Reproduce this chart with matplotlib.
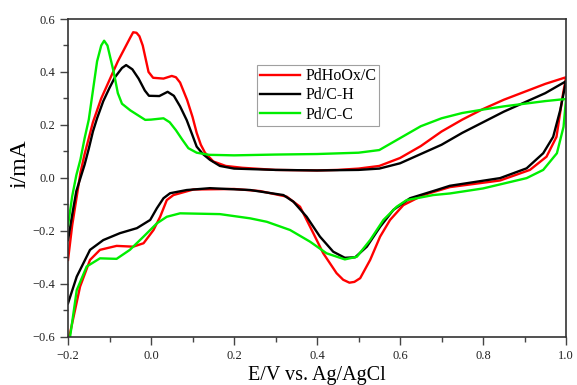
import numpy as np
import matplotlib
matplotlib.use('Agg')
import matplotlib.pyplot as plt
from matplotlib.ticker import MultipleLocator

plt.rcParams['font.family'] = 'Liberation Serif'

# PdHoOx/C, forward (anodic) scan
red_up_x = [-0.2, -0.19, -0.18, -0.17, -0.16, -0.15, -0.14, -0.12, -0.10, -0.08, -0.06, -0.05, -0.043, -0.035,
            -0.028, -0.02, -0.013, -0.006, 0.005, 0.03, 0.05, 0.06, 0.07, 0.087, 0.1, 0.11, 0.12, 0.13, 0.15,
            0.18, 0.22, 0.3, 0.4, 0.45, 0.5, 0.55, 0.6, 0.65, 0.7, 0.75, 0.8, 0.85, 0.9, 0.95, 1.0]
red_up_y = [-0.31, -0.18, -0.08, 0.02, 0.09, 0.15, 0.21, 0.30, 0.37, 0.44, 0.50, 0.53, 0.55, 0.548,
            0.535, 0.50, 0.45, 0.40, 0.378, 0.375, 0.385, 0.38, 0.36, 0.294, 0.23, 0.17, 0.125, 0.095, 0.062,
            0.045, 0.038, 0.03, 0.028, 0.03, 0.035, 0.045, 0.075, 0.12, 0.175, 0.22, 0.26, 0.295, 0.325, 0.355, 0.38]
# PdHoOx/C, reverse (cathodic) scan
red_dn_x = [1.0, 0.993, 0.977, 0.953, 0.913, 0.841, 0.72, 0.656, 0.608, 0.576, 0.552, 0.528, 0.504, 0.49, 0.478,
            0.463, 0.447, 0.415, 0.391, 0.359, 0.327, 0.263, 0.2, 0.102, 0.054, 0.038, 0.022, 0.006, -0.018, -0.043,
            -0.083, -0.123, -0.147, -0.171, -0.195, -0.2]
red_dn_y = [0.38, 0.32, 0.155, 0.08, 0.03, -0.01, -0.035, -0.065, -0.103, -0.159, -0.222, -0.31, -0.379, -0.393, -0.396,
            -0.385, -0.36, -0.285, -0.209, -0.109, -0.071, -0.05, -0.042, -0.044, -0.065, -0.084, -0.147, -0.197, -0.247, -0.26,
            -0.257, -0.272, -0.31, -0.411, -0.586, -0.61]

# Pd/C-H
blk_up_x = [-0.2, -0.19, -0.18, -0.17, -0.16, -0.15, -0.14, -0.13, -0.115, -0.1, -0.087, -0.07, -0.06, -0.045,
            -0.03, -0.015, -0.005, 0.02, 0.04, 0.055, 0.07, 0.086, 0.1, 0.11, 0.125, 0.142, 0.166, 0.2, 0.3, 0.4,
            0.5, 0.55, 0.6, 0.65, 0.7, 0.75, 0.8, 0.85, 0.9, 0.95, 1.0]
blk_up_y = [-0.235, -0.14, -0.05, 0.0, 0.05, 0.11, 0.175, 0.225, 0.29, 0.34, 0.38, 0.415, 0.426, 0.41,
            0.375, 0.33, 0.31, 0.309, 0.325, 0.31, 0.27, 0.218, 0.16, 0.118, 0.09, 0.068, 0.045, 0.035, 0.03, 0.028,
            0.03, 0.035, 0.055, 0.09, 0.125, 0.17, 0.21, 0.25, 0.285, 0.32, 0.365]
blk_dn_x = [1.0, 0.986, 0.969, 0.945, 0.905, 0.841, 0.72, 0.688, 0.624, 0.584, 0.552, 0.52, 0.492, 0.467,
            0.439, 0.407, 0.375, 0.343, 0.319, 0.239, 0.142, 0.086, 0.046, 0.030, 0.014, -0.002, -0.034, -0.075,
            -0.115, -0.147, -0.179, -0.2]
blk_dn_y = [0.365, 0.256, 0.155, 0.093, 0.036, -0.001, -0.03, -0.046, -0.077, -0.121, -0.185, -0.26, -0.30, -0.302,
            -0.279, -0.222, -0.147, -0.09, -0.065, -0.046, -0.039, -0.046, -0.058, -0.077, -0.115, -0.159, -0.19, -0.209,
            -0.235, -0.272, -0.373, -0.474]

# Pd/C-C
grn_up_x = [-0.2, -0.19, -0.18, -0.17, -0.16, -0.15, -0.14, -0.13, -0.12, -0.113, -0.105, -0.099, -0.09, -0.08,
            -0.07, -0.05, -0.03, -0.014, 0.0, 0.03, 0.045, 0.06, 0.075, 0.09, 0.11, 0.14, 0.2, 0.3, 0.4, 0.5,
            0.55, 0.6, 0.65, 0.7, 0.75, 0.8, 0.85, 0.9, 0.95, 1.0]
grn_up_y = [-0.18, -0.07, 0.01, 0.07, 0.15, 0.22, 0.33, 0.44, 0.50, 0.518, 0.50, 0.46, 0.40, 0.32,
            0.28, 0.255, 0.235, 0.219, 0.22, 0.225, 0.21, 0.18, 0.145, 0.112, 0.095, 0.087, 0.085, 0.088, 0.09, 0.095,
            0.105, 0.15, 0.195, 0.225, 0.245, 0.258, 0.27, 0.28, 0.29, 0.298]
grn_dn_x = [1.0, 0.994, 0.978, 0.945, 0.905, 0.8, 0.72, 0.68, 0.64, 0.616, 0.592, 0.56, 0.528, 0.496,
            0.467, 0.423, 0.383, 0.335, 0.279, 0.239, 0.166, 0.07, 0.038, 0.014, -0.018, -0.051, -0.083, -0.123,
            -0.155, -0.179, -0.195, -0.2]
grn_dn_y = [0.298, 0.193, 0.093, 0.03, -0.001, -0.04, -0.059, -0.065, -0.077, -0.084, -0.109, -0.159, -0.235, -0.298,
            -0.308, -0.285, -0.241, -0.197, -0.166, -0.153, -0.137, -0.134, -0.147, -0.172, -0.222, -0.272, -0.306, -0.304,
            -0.335, -0.424, -0.60, -0.63]

fig = plt.figure(figsize=(5.77, 3.85), dpi=100)
ax = fig.add_axes([0.1179, 0.1255, 0.8631, 0.8251])

lw = 1.7
ax.plot(red_up_x + red_dn_x, red_up_y + red_dn_y, color='#ff0000', lw=lw, label='PdHoOx/C', solid_joinstyle='round')
ax.plot(blk_up_x + blk_dn_x, blk_up_y + blk_dn_y, color='black', lw=lw, label='Pd/C-H', solid_joinstyle='round')
ax.plot(grn_up_x + grn_dn_x, grn_up_y + grn_dn_y, color='#00ee00', lw=lw, label='Pd/C-C', solid_joinstyle='round')

ax.set_xlim(-0.2, 1.0)
ax.set_ylim(-0.6, 0.6)
ax.xaxis.set_major_locator(MultipleLocator(0.2))
ax.xaxis.set_minor_locator(MultipleLocator(0.1))
ax.yaxis.set_major_locator(MultipleLocator(0.2))
ax.yaxis.set_minor_locator(MultipleLocator(0.1))
ax.tick_params(which='major', direction='out', length=6, width=1, color='#444444', labelsize=9,
               labelcolor='#222222')
ax.tick_params(which='minor', direction='out', length=3.5, width=1, color='#444444')
for s in ax.spines.values():
    s.set_linewidth(1.2)
    s.set_color('#333333')

ax.set_xlabel('E/V vs. Ag/AgCl', fontsize=14.5, labelpad=3)
ax.set_ylabel('i/mA', fontsize=17)
ax.yaxis.set_label_coords(-0.075, 0.544)

leg = ax.legend(loc='upper left', bbox_to_anchor=(0.38, 0.855), fontsize=11.5, frameon=True, fancybox=False,
                edgecolor='#888888', handlelength=2.5, handletextpad=0.3, labelspacing=0.2,
                borderpad=0.2, borderaxespad=0)
leg.get_frame().set_linewidth(0.8)

fig.savefig('out.png', dpi=100)
